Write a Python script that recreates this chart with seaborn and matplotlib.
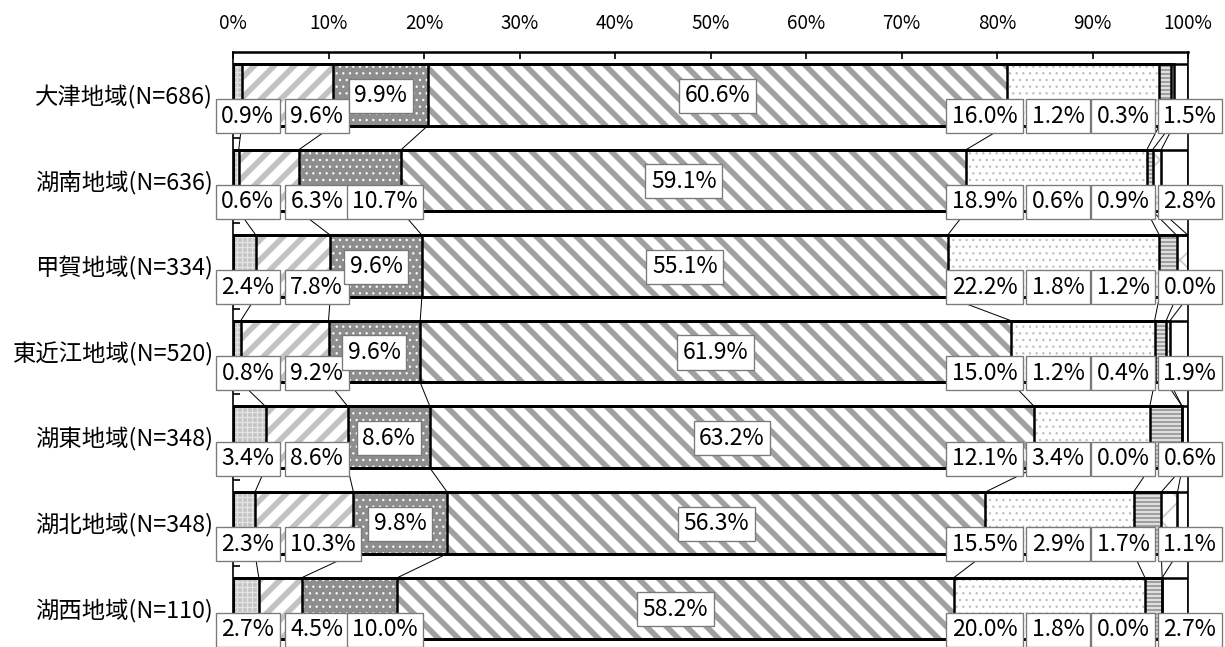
import numpy as np
import pandas as pd
import seaborn as sns
import matplotlib as mpl
import matplotlib.pyplot as plt
from matplotlib import font_manager

# data (percent of respondents per region)
regions = ["大津地域(N=686)", "湖南地域(N=636)", "甲賀地域(N=334)",
           "東近江地域(N=520)", "湖東地域(N=348)", "湖北地域(N=348)",
           "湖西地域(N=110)"]
seg1 = [0.9, 0.6, 2.4, 0.8, 3.4, 2.3, 2.7]
seg2 = [9.6, 6.3, 7.8, 9.2, 8.6, 10.3, 4.5]
seg3 = [9.9, 10.7, 9.6, 9.6, 8.6, 9.8, 10.0]
seg4 = [60.6, 59.1, 55.1, 61.9, 63.2, 56.3, 58.2]
seg5 = [16.0, 18.9, 22.2, 15.0, 12.1, 15.5, 20.0]
seg6 = [1.2, 0.6, 1.8, 1.2, 3.4, 2.9, 1.8]
seg7 = [0.3, 0.9, 1.2, 0.4, 0.0, 1.7, 0.0]
seg8 = [1.5, 2.8, 0.0, 1.9, 0.6, 1.1, 2.7]
xticks = list(range(0, 101, 10))

# styles for each segment: face colour, hatch, hatch colour, hatch width
faces = ["#c4c4c4", "white", "#8e8e8e", "white", "white", "white", "white", "white"]
hatches = ["++++", "//", "...", "\\\\", "...", "-----", "x", None]
hcolors = ["#e4e4e4", "#c2c2c2", "white", "#a0a0a0", "#bcbcbc", "#a0a0a0", "#c8c8c8", "white"]
hwidths = [0.8, 3.4, 0.6, 3.4, 0.6, 1.6, 1.0, 0.5]

# where the value boxes sit
BAR_H = 0.72
LOW = 0.25
COLS = {0: 1.55, 1: 6.0, 4: 78.7, 5: 86.4, 6: 93.2, 7: 100.2}
SEG3_LOW_X = 15.9
SEG3_LOW_ROWS = (1, 6)

sns.set_style("white")
names = {f.name for f in font_manager.fontManager.ttflist}
if "Noto Sans Mono CJK JP" in names:
    main_font = ["Noto Sans Mono CJK JP", "DejaVu Sans"]
    lab_size, tick_size, cat_size = 14.0, 12.8, 14.2
else:
    main_font = ["Noto Sans CJK JP", "DejaVu Sans"]
    lab_size, tick_size, cat_size = 13.8, 11.3, 14.0
plt.rcParams["font.family"] = main_font

vals = pd.DataFrame({"s1": seg1, "s2": seg2, "s3": seg3, "s4": seg4,
                     "s5": seg5, "s6": seg6, "s7": seg7, "s8": seg8})
totals = vals.sum(axis=1).values
pct = vals.values / totals[:, None] * 100
cum = np.cumsum(pct, axis=1)
start = cum - pct

fig = plt.figure(figsize=(1225 / 120, 647 / 120), dpi=120)
ax = fig.add_axes([233 / 1225, 0, 955 / 1225, 1 - 52 / 647])

# hatched fills, drawn as cumulative layers from right to left
for k in reversed(range(8)):
    n0 = len(ax.patches)
    mpl.rcParams["hatch.linewidth"] = hwidths[k]
    sns.barplot(x=cum[:, k], y=regions, orient="h", color=faces[k],
                saturation=1, width=BAR_H, errorbar=None, hatch=hatches[k],
                edgecolor=hcolors[k], linewidth=0, ax=ax)
    for p in ax.patches[n0:]:
        if hasattr(p, "set_hatch_linewidth"):
            p.set_hatch_linewidth(hwidths[k])

# black outlines of every segment
for k in reversed(range(8)):
    sns.barplot(x=cum[:, k], y=regions, orient="h", color="black", fill=False,
                saturation=1, width=BAR_H, errorbar=None, linewidth=1.5, ax=ax)

# series lines between neighbouring bars
for i in range(len(regions) - 1):
    for k in range(7):
        ax.plot([cum[i, k], cum[i + 1, k]], [i + BAR_H / 2, i + 1 - BAR_H / 2],
                color="black", lw=0.6, zorder=3)

box = dict(boxstyle="square,pad=0.24", fc="white", ec="#7a7a7a", lw=0.8)
for i in range(len(regions)):
    for k in range(8):
        txt = f"{vals.iat[i, k]:.1f}%"
        ha = "center"
        if k in COLS:
            x, y = COLS[k], i + LOW
            if k == 1:
                ha = "left"
        elif k == 2 and i in SEG3_LOW_ROWS:
            x, y = SEG3_LOW_X, i + LOW
        else:
            x, y = start[i, k] + pct[i, k] / 2, i + 0.01
        ax.text(x, y, txt, ha=ha, va="center", fontsize=lab_size,
                color="black", bbox=box, zorder=6)

ax.set_xlim(0, 100)
ax.set_ylim(len(regions) - 0.55, -0.5)
ax.set_xlabel("")
ax.set_ylabel("")
ax.xaxis.tick_top()
ax.set_xticks(xticks)
ax.set_xticklabels([f"{t}%" for t in xticks])
ax.tick_params(axis="x", direction="in", length=4, width=1, pad=11,
               labelsize=tick_size, colors="black")
ax.set_yticks(range(len(regions)))
ax.set_yticks(np.arange(0.5, len(regions) - 0.5, 1), minor=True)
ax.tick_params(axis="y", which="major", length=0, pad=12, labelsize=cat_size,
               labelcolor="black")
ax.tick_params(axis="y", which="minor", direction="in", length=4, width=1,
               left=True, color="black")
for side in ["top", "left", "right"]:
    ax.spines[side].set_color("black")
ax.spines["top"].set_linewidth(1.5)
ax.spines["left"].set_linewidth(1.0)
ax.spines["right"].set_linewidth(1.0)
ax.spines["bottom"].set_visible(False)

fig.savefig("out.png", dpi=120)
